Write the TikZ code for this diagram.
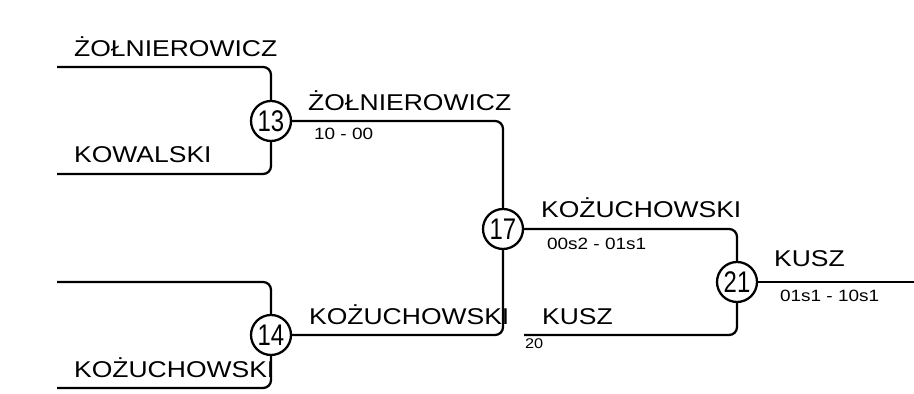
\documentclass[tikz,border=0pt]{standalone}
\usepackage{fontspec}
\setmainfont{Liberation Sans}[FakeStretch=1.16]
\newfontfamily\numfont{Liberation Sans}[FakeStretch=0.8]

\begin{document}
\begin{tikzpicture}[x=0.02cm, y=-0.02cm, line width=1.3pt,
    match/.style={circle, draw, minimum size=0.8cm, inner sep=0pt, font=\numfont\fontsize{17}{18}\selectfont},
    player/.style={anchor=base west, inner sep=0pt, font=\fontsize{13}{14}\selectfont},
    score/.style={anchor=base west, inner sep=0pt, font=\fontsize{9.3}{10}\selectfont},
    seedno/.style={anchor=base west, inner sep=0pt, font=\fontsize{8}{9}\selectfont},
    bracket/.style={rounded corners=4.5pt}]
    \useasboundingbox (0,0) rectangle (914,394);

    % Pojedynki
    \node[match] (m13) at (271,121) {13};
    \node[match] (m14) at (271,335) {14};
    \node[match] (m17) at (503,229) {17};
    \node[match] (m21) at (737,282) {21};

    % Poczatki linii zawodnikow
    \coordinate (p1) at (57,67);
    \coordinate (p2) at (57,174);
    \coordinate (p3) at (57,282);
    \coordinate (p4) at (57,388);
    \coordinate (p5) at (524,335);
    \coordinate (fin) at (914,282);

    % Drabinka
    \draw[bracket] (p1) -| (m13.north);
    \draw[bracket] (p2) -| (m13.south);
    \draw[bracket] (p3) -| (m14.north);
    \draw[bracket] (p4) -| (m14.south);
    \draw[bracket] (m13.east) -| (m17.north);
    \draw[bracket] (m14.east) -| (m17.south);
    \draw[bracket] (m17.east) -| (m21.north);
    \draw[bracket] (p5) -| (m21.south);
    \draw (m21.east) -- (fin);

    % Nazwiska i wyniki
    \node[player] (n1) at (73,57) {ŻOŁNIEROWICZ};
    \node[player] (n2) at (73,163) {KOWALSKI};
    \node[player] (n4) at (73,378) {KOŻUCHOWSKI};
    \node[player] (w13) at (307,111) {ŻOŁNIEROWICZ};
    \node[score] (s13) at (313,140) {10 - 00};
    \node[player] (w14) at (308,325) {KOŻUCHOWSKI};
    \node[player] (w17) at (540,218) {KOŻUCHOWSKI};
    \node[score] (s17) at (546,250) {00s2 - 01s1};
    \node[player] (n5) at (541,325) {KUSZ};
    \node[seedno] (s5) at (524,349) {20};
    \node[player] (w21) at (773,267) {KUSZ};
    \node[score] (s21) at (779,302) {01s1 - 10s1};
\end{tikzpicture}
\end{document}
